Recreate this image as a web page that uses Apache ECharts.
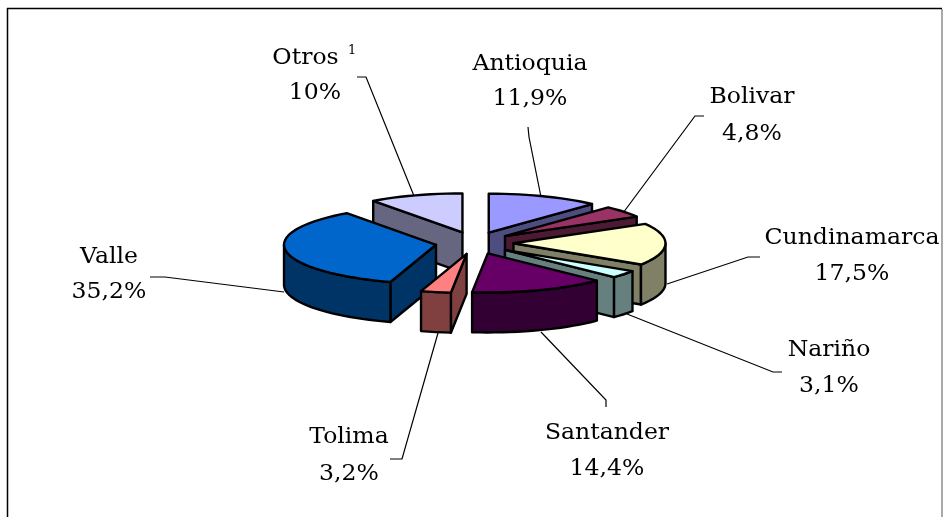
<!DOCTYPE html>
<html>
<head>
<meta charset="utf-8">
<script src="https://cdn.jsdelivr.net/npm/echarts@6/dist/echarts.min.js"></script>
<style>
  html, body { margin: 0; padding: 0; background: #fff; }
  #chart { width: 943px; height: 517px; }
</style>
</head>
<body>
<div id="chart"></div>
<script>
// clockwise from 12 o'clock
const regions = ['Antioquia', 'Bolivar', 'Cundinamarca', 'Nariño', 'Santander', 'Tolima', 'Valle', 'Otros']
const shares = [11.9, 4.8, 17.5, 3.1, 14.4, 3.2, 35.2, 10]
const topColors = ['#9999ff', '#993366', '#ffffcc', '#ccffff', '#660066', '#ff8080', '#0066cc', '#ccccff']
const sideColors = ['#4d4d80', '#4d1a33', '#808066', '#668080', '#330033', '#804040', '#003366', '#666680']
// painter's order, back slices first
const drawOrder = [7, 0, 1, 2, 3, 6, 5, 4]

// label centres [x, y of name, y of value]
const labelPos = [[530, 64, 99], [752, 97, 134], [852, 238, 274], [829, 350, 386], [607, 433, 469], [349, 437, 474], [109, 257, 292], [315, 58, 93]]
const leaders = [
  [[528, 127], [529, 137], [541, 197]],
  [[704, 116], [695, 116], [623, 213]],
  [[760, 257], [748, 257], [667, 284]],
  [[782, 372], [773, 372], [627, 314]],
  [[606, 407], [606, 400], [541, 332]],
  [[390, 459], [402, 459], [438, 333]],
  [[150, 277], [165, 277], [284, 292]],
  [[357, 77], [366, 77], [414, 196]]
]

// pie projection
const cx = 474.5
const cy = 243
const rx = 152
const ry = 39
const depth = 40
const explode = 39
const explodeY = 0.285

const total = shares.reduce((a, b) => a + b, 0)
const angles = []
let acc = 0
shares.forEach((v) => {
  angles.push([acc / total * 360, (acc + v) / total * 360])
  acc += v
})

const rad = (d) => d * Math.PI / 180

const renderSlice = (params, api) => {
  const i = api.value(0)
  const a0 = angles[i][0]
  const a1 = angles[i][1]
  const mid = (a0 + a1) / 2
  const ox = cx + explode * Math.sin(rad(mid))
  const oy = cy - explode * explodeY * Math.cos(rad(mid))
  const pt = (a, down) => [ox + rx * Math.sin(rad(a)), oy - ry * Math.cos(rad(a)) + (down ? depth : 0)]
  const arc = (from, to, down) => {
    const out = []
    const n = Math.max(2, Math.ceil((to - from) / 3))
    for (let k = 0; k <= n; k++) out.push(pt(from + (to - from) * k / n, down))
    return out
  }
  const line = { stroke: '#000', lineWidth: 2.4, lineJoin: 'round' }
  const poly = (points, fill) => ({ type: 'polygon', shape: { points }, style: { fill, ...line } })
  const apex = [ox, oy]
  const apexDown = [ox, oy + depth]
  const side = sideColors[i]
  const children = []

  if (Math.sin(rad(a0)) < 0) children.push(poly([apex, pt(a0), pt(a0, true), apexDown], side))
  if (Math.sin(rad(a1)) > 0) children.push(poly([apex, pt(a1), pt(a1, true), apexDown], side))
  // only the front part of the rim shows
  const f0 = Math.max(a0, 90)
  const f1 = Math.min(a1, 270)
  if (f1 > f0) children.push(poly(arc(f0, f1, false).concat(arc(f0, f1, true).reverse()), side))
  children.push(poly([apex].concat(arc(a0, a1, false)), topColors[i]))

  return { type: 'group', children }
}

const font = '"DejaVu Serif", serif'
const textEl = (text, x, y, size) => ({
  type: 'text',
  x,
  y,
  scaleX: 1.07, // the original face runs wider than DejaVu
  style: { text, fill: '#000', font: `${size}px ${font}`, align: 'center', verticalAlign: 'middle' }
})

const graphics = []
regions.forEach((name, i) => {
  const [x, y1, y2] = labelPos[i]
  const value = String(shares[i]).replace('.', ',') + '%'
  if (name === 'Otros') {
    graphics.push(textEl(name, 305.5, y1, 22))
    graphics.push(textEl('1', 352, 51, 12))
  } else {
    graphics.push(textEl(name, x, y1, 22))
  }
  graphics.push(textEl(value, x, y2, 22))
  graphics.push({
    type: 'polyline',
    shape: { points: leaders[i] },
    style: { stroke: '#000', lineWidth: 1.2, fill: 'none' }
  })
})

// frame
graphics.push({ type: 'line', shape: { x1: 7, y1: 8.5, x2: 942, y2: 8.5 }, style: { stroke: '#000', lineWidth: 1.5 } })
graphics.push({ type: 'line', shape: { x1: 7.5, y1: 8, x2: 7.5, y2: 517 }, style: { stroke: '#000', lineWidth: 1.5 } })
graphics.push({ type: 'line', shape: { x1: 942, y1: 9, x2: 942, y2: 517 }, style: { stroke: '#8c8c8c', lineWidth: 1.5 } })

const chart = echarts.init(document.getElementById('chart'), null, { renderer: 'canvas' })
chart.setOption({
  animation: false,
  backgroundColor: '#fff',
  graphic: { elements: graphics },
  series: [
    {
      type: 'custom',
      coordinateSystem: 'none',
      renderItem: renderSlice,
      data: drawOrder.map((i) => [i, shares[i]])
    }
  ]
})
</script>
</body>
</html>
